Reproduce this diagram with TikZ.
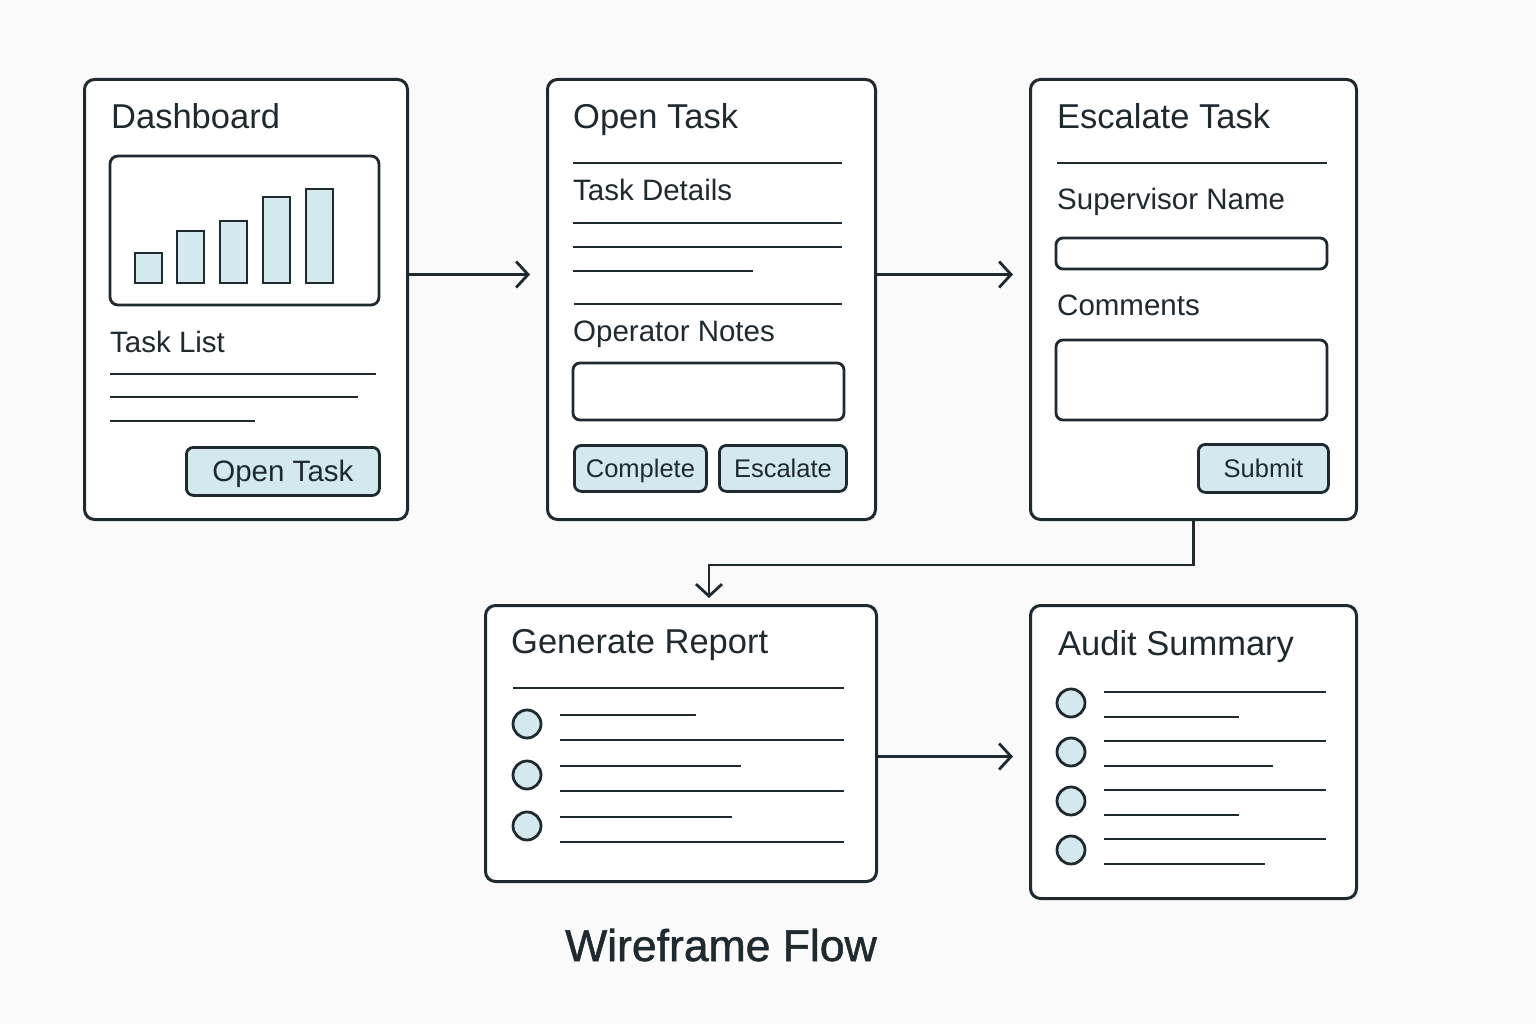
\documentclass[tikz,border=0pt]{standalone}
\usepackage{fontspec}
\setmainfont{Liberation Sans}
\newfontfamily\titlefont[FakeBold=1.2]{Liberation Sans}
\usetikzlibrary{arrows.meta}

\definecolor{ink}{HTML}{1E2A30}
\definecolor{paleblue}{HTML}{D4E9EE}
\definecolor{backdrop}{HTML}{FAFAFA}

\begin{document}
\begin{tikzpicture}[x=1pt, y=-1pt,
	panel/.style={draw=ink, fill=white, line width=3pt, rounded corners=10pt, anchor=north west, inner sep=0pt},
	field/.style={draw=ink, fill=white, line width=2.8pt, rounded corners=7pt},
	btn/.style={draw=ink, fill=paleblue, line width=2.8pt, rounded corners=7pt, anchor=north west, inner sep=0pt, text=ink, text depth=0pt},
	heading/.style={anchor=base west, inner sep=0pt, text=ink, font=\fontsize{34.5}{41}\selectfont},
	caption/.style={anchor=base west, inner sep=0pt, text=ink, font=\fontsize{29.5}{35}\selectfont},
	rule/.style={draw=ink, line width=2.8pt},
	bullet/.style={draw=ink, fill=paleblue, line width=2.8pt},
	flow/.style={draw=ink, line width=2.8pt, -{Straight Barb[length=12pt, width=26pt]}}]
	
	\useasboundingbox[fill=backdrop] (0,0) rectangle (1536,1024);
	
	%Panels
	\node[panel, minimum width=323pt, minimum height=440pt] (dash) at (83,78) {};
	\node[panel, minimum width=328pt, minimum height=440pt] (opentask) at (546,78) {};
	\node[panel, minimum width=326pt, minimum height=440pt] (escalate) at (1029,78) {};
	\node[panel, minimum width=391pt, minimum height=276pt] (report) at (484,604) {};
	\node[panel, minimum width=326pt, minimum height=293pt] (audit) at (1029,604) {};
	
	%Dashboard
	\node[heading] (dashtitle) at (111,129) {Dashboard};
	\draw[field, rounded corners=8pt] (110,156) rectangle (379,305);
	\foreach \x/\top in {135/253, 177/231, 220/221, 263/197, 306/189} {
		\draw[bullet] (\x,\top) rectangle (\x+27,283);
	}
	\node[caption] (tasklist) at (110,352) {Task List};
	\foreach \y/\len in {374/266, 397/248, 421/145} {
		\draw[rule] (110,\y) -- ++(\len,0);
	}
	\node[btn, minimum width=193pt, minimum height=48pt, text height=21pt, font=\fontsize{29.5}{35}\selectfont] (openbtn) at (185,446) {Open Task};
	
	%Open Task
	\node[heading] (opentitle) at (573,129) {Open Task};
	\draw[rule] (573,163) -- (842,163);
	\node[caption] (details) at (573,201) {Task Details};
	\foreach \y/\len in {223/269, 247/269, 271/180} {
		\draw[rule] (573,\y) -- ++(\len,0);
	}
	\draw[rule] (574,304) -- (842,304);
	\node[caption] (notes) at (573,341) {Operator Notes};
	\draw[field] (573,363) rectangle (844,420);
	\node[btn, minimum width=132pt, minimum height=46pt, text height=18pt, font=\fontsize{25.5}{30}\selectfont] (completebtn) at (573,444) {Complete};
	\node[btn, minimum width=127pt, minimum height=46pt, text height=18pt, font=\fontsize{25.5}{30}\selectfont] (escalatebtn) at (718,444) {Escalate};
	
	%Escalate Task
	\node[heading] (esctitle) at (1057,129) {Escalate Task};
	\draw[rule] (1057,163) -- (1327,163);
	\node[caption] (supervisor) at (1057,210) {Supervisor Name};
	\draw[field] (1056,238) rectangle (1327,269);
	\node[caption] (comments) at (1057,315) {Comments};
	\draw[field] (1056,340) rectangle (1327,420);
	\node[btn, minimum width=130pt, minimum height=48pt, text height=18pt, font=\fontsize{25.5}{30}\selectfont] (submitbtn) at (1197,443) {Submit};
	
	%Generate Report
	\node[heading] (reptitle) at (511,653) {Generate Report};
	\draw[rule] (513,688) -- (844,688);
	\foreach \y/\len in {724/136, 775/181, 826/172} {
		\draw[bullet] (527,\y) circle (14);
		\draw[rule] (560,\y-9) -- ++(\len,0);
		\draw[rule] (560,\y+16) -- (844,\y+16);
	}
	
	%Audit Summary
	\node[heading] (audtitle) at (1058,655) {Audit Summary};
	\foreach \y/\len in {703/135, 752/169, 801/135, 850/161} {
		\draw[bullet] (1071,\y) circle (14);
		\draw[rule] (1104,\y-11) -- (1326,\y-11);
		\draw[rule] (1104,\y+14) -- ++(\len,0);
	}
	
	%Verbindungen
	\draw[flow, shorten >=16pt] ([yshift=25pt]dash.east) -- ([yshift=25pt]opentask.west);
	\draw[flow, shorten >=16pt] ([yshift=25pt]opentask.east) -- ([yshift=25pt]escalate.west);
	\draw[flow, shorten >=6pt] (escalate.south) -- ++(0,44) -| ([xshift=28pt]report.north);
	\draw[flow, shorten >=16pt] ([yshift=-13pt]report.east) -- ([yshift=-13pt]report.east -| audit.west);
	
	\node[anchor=base, inner sep=0pt, text=ink, font=\titlefont\fontsize{44.5}{52}\selectfont] (flowtitle) at (721,961) {Wireframe Flow};
\end{tikzpicture}
\end{document}
